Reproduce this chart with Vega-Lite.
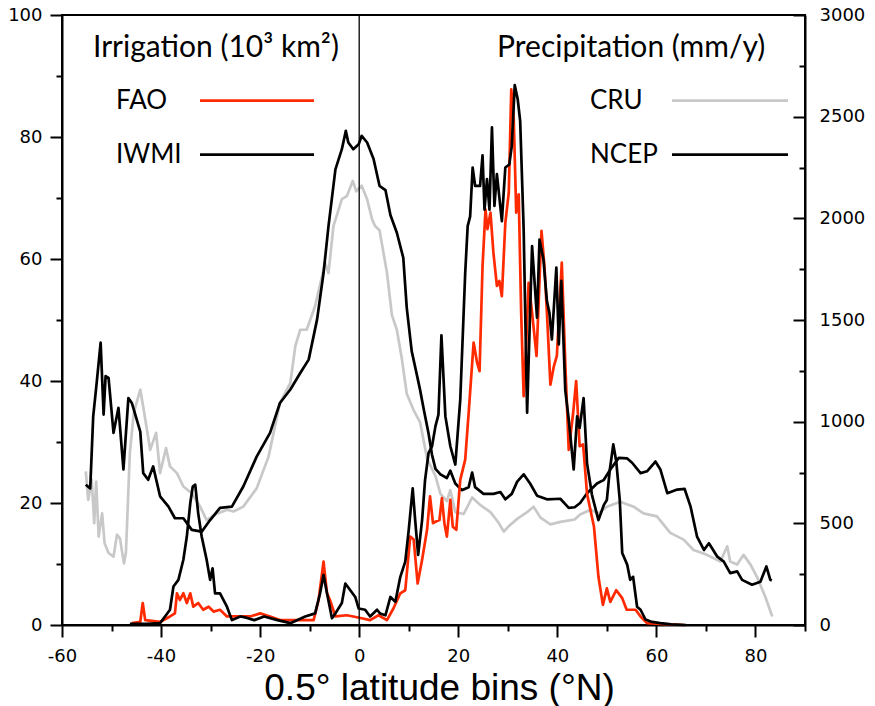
{
  "$schema": "https://vega.github.io/schema/vega-lite/v6.json",
  "width": 743,
  "height": 610,
  "autosize": {"type": "none"},
  "padding": {"left": 62, "top": 15, "right": 70, "bottom": 81},
  "background": "white",
  "config": {
    "view": {"stroke": "black", "strokeWidth": 2},
    "axis": {"grid": false, "domainColor": "black", "domainWidth": 2, "tickColor": "black", "tickWidth": 2, "labelFont": "DejaVu Sans", "labelFontSize": 18, "labelColor": "black", "labelFlush": false, "labelOverlap": false}
  },
  "datasets": {
    "irrigation": [
      {"lat":-45.9,"value":0.3,"series":"FAO"},{"lat":-44.2,"value":0.5,"series":"FAO"},{"lat":-43.7,"value":3.6,"series":"FAO"},{"lat":-43.2,"value":0.8,"series":"FAO"},{"lat":-40.2,"value":0.5,"series":"FAO"},{"lat":-38.2,"value":1.4,"series":"FAO"},{"lat":-37.2,"value":1.9,"series":"FAO"},{"lat":-36.8,"value":5.2,"series":"FAO"},{"lat":-36.2,"value":4.1,"series":"FAO"},{"lat":-35.5,"value":5.2,"series":"FAO"},{"lat":-34.8,"value":3.6,"series":"FAO"},{"lat":-34.1,"value":5.2,"series":"FAO"},{"lat":-33.5,"value":3.0,"series":"FAO"},{"lat":-32.5,"value":3.6,"series":"FAO"},{"lat":-31.5,"value":2.5,"series":"FAO"},{"lat":-30.4,"value":3.0,"series":"FAO"},{"lat":-29.4,"value":2.2,"series":"FAO"},{"lat":-28.1,"value":2.5,"series":"FAO"},{"lat":-26.7,"value":1.4,"series":"FAO"},{"lat":-24.0,"value":1.4,"series":"FAO"},{"lat":-22.0,"value":1.4,"series":"FAO"},{"lat":-20.0,"value":1.9,"series":"FAO"},{"lat":-18.0,"value":1.4,"series":"FAO"},{"lat":-16.0,"value":0.8,"series":"FAO"},{"lat":-13.3,"value":0.8,"series":"FAO"},{"lat":-9.2,"value":0.8,"series":"FAO"},{"lat":-8.2,"value":4.1,"series":"FAO"},{"lat":-7.2,"value":10.4,"series":"FAO"},{"lat":-6.5,"value":5.2,"series":"FAO"},{"lat":-5.9,"value":4.1,"series":"FAO"},{"lat":-4.8,"value":1.4,"series":"FAO"},{"lat":-2.5,"value":1.6,"series":"FAO"},{"lat":-1.2,"value":1.4,"series":"FAO"},{"lat":0.5,"value":1.1,"series":"FAO"},{"lat":2.2,"value":0.8,"series":"FAO"},{"lat":3.9,"value":1.6,"series":"FAO"},{"lat":5.6,"value":0.8,"series":"FAO"},{"lat":6.9,"value":2.7,"series":"FAO"},{"lat":8.3,"value":5.2,"series":"FAO"},{"lat":9.3,"value":5.7,"series":"FAO"},{"lat":10.3,"value":14.5,"series":"FAO"},{"lat":11.0,"value":14.0,"series":"FAO"},{"lat":11.8,"value":6.8,"series":"FAO"},{"lat":12.7,"value":10.7,"series":"FAO"},{"lat":13.7,"value":15.6,"series":"FAO"},{"lat":14.3,"value":21.1,"series":"FAO"},{"lat":14.9,"value":16.7,"series":"FAO"},{"lat":15.6,"value":17.0,"series":"FAO"},{"lat":16.2,"value":17.2,"series":"FAO"},{"lat":16.7,"value":20.8,"series":"FAO"},{"lat":17.2,"value":16.7,"series":"FAO"},{"lat":17.7,"value":14.5,"series":"FAO"},{"lat":18.4,"value":20.5,"series":"FAO"},{"lat":18.9,"value":16.1,"series":"FAO"},{"lat":19.6,"value":15.6,"series":"FAO"},{"lat":20.4,"value":23.8,"series":"FAO"},{"lat":21.4,"value":27.1,"series":"FAO"},{"lat":22.1,"value":34.8,"series":"FAO"},{"lat":23.1,"value":46.3,"series":"FAO"},{"lat":23.8,"value":43.0,"series":"FAO"},{"lat":24.3,"value":41.6,"series":"FAO"},{"lat":24.9,"value":58.8,"series":"FAO"},{"lat":25.5,"value":68.1,"series":"FAO"},{"lat":25.9,"value":64.9,"series":"FAO"},{"lat":26.5,"value":67.6,"series":"FAO"},{"lat":27.1,"value":61.0,"series":"FAO"},{"lat":27.8,"value":55.6,"series":"FAO"},{"lat":28.3,"value":56.4,"series":"FAO"},{"lat":28.8,"value":53.9,"series":"FAO"},{"lat":29.5,"value":65.9,"series":"FAO"},{"lat":30.2,"value":70.9,"series":"FAO"},{"lat":30.7,"value":87.8,"series":"FAO"},{"lat":31.2,"value":82.9,"series":"FAO"},{"lat":31.7,"value":67.6,"series":"FAO"},{"lat":32.2,"value":70.6,"series":"FAO"},{"lat":32.7,"value":51.2,"series":"FAO"},{"lat":33.2,"value":37.5,"series":"FAO"},{"lat":33.7,"value":45.7,"series":"FAO"},{"lat":34.2,"value":56.1,"series":"FAO"},{"lat":34.9,"value":51.2,"series":"FAO"},{"lat":35.8,"value":44.1,"series":"FAO"},{"lat":36.8,"value":64.6,"series":"FAO"},{"lat":37.4,"value":58.8,"series":"FAO"},{"lat":37.9,"value":51.2,"series":"FAO"},{"lat":38.6,"value":39.4,"series":"FAO"},{"lat":39.3,"value":42.4,"series":"FAO"},{"lat":39.9,"value":44.1,"series":"FAO"},{"lat":40.9,"value":59.4,"series":"FAO"},{"lat":41.6,"value":43.0,"series":"FAO"},{"lat":42.3,"value":28.7,"series":"FAO"},{"lat":43.2,"value":34.8,"series":"FAO"},{"lat":43.8,"value":40.0,"series":"FAO"},{"lat":44.5,"value":29.3,"series":"FAO"},{"lat":45.2,"value":29.6,"series":"FAO"},{"lat":46.0,"value":21.5,"series":"FAO"},{"lat":47.4,"value":16.1,"series":"FAO"},{"lat":48.3,"value":7.9,"series":"FAO"},{"lat":49.2,"value":3.3,"series":"FAO"},{"lat":50.0,"value":6.0,"series":"FAO"},{"lat":50.7,"value":3.8,"series":"FAO"},{"lat":51.9,"value":5.7,"series":"FAO"},{"lat":53.1,"value":4.4,"series":"FAO"},{"lat":54.0,"value":2.5,"series":"FAO"},{"lat":55.8,"value":2.5,"series":"FAO"},{"lat":56.8,"value":1.4,"series":"FAO"},{"lat":58.1,"value":0.3,"series":"FAO"},{"lat":60.8,"value":0.2,"series":"FAO"},{"lat":65.5,"value":0.0,"series":"FAO"},
      {"lat":-46.3,"value":0.2,"series":"IWMI"},{"lat":-43.0,"value":0.2,"series":"IWMI"},{"lat":-40.2,"value":0.3,"series":"IWMI"},{"lat":-39.2,"value":1.4,"series":"IWMI"},{"lat":-38.2,"value":2.5,"series":"IWMI"},{"lat":-37.5,"value":6.3,"series":"IWMI"},{"lat":-36.5,"value":7.4,"series":"IWMI"},{"lat":-35.5,"value":10.7,"series":"IWMI"},{"lat":-34.8,"value":14.5,"series":"IWMI"},{"lat":-34.1,"value":20.0,"series":"IWMI"},{"lat":-33.6,"value":22.7,"series":"IWMI"},{"lat":-33.1,"value":23.0,"series":"IWMI"},{"lat":-32.5,"value":18.3,"series":"IWMI"},{"lat":-31.8,"value":14.5,"series":"IWMI"},{"lat":-30.8,"value":10.7,"series":"IWMI"},{"lat":-30.1,"value":7.4,"series":"IWMI"},{"lat":-29.6,"value":9.3,"series":"IWMI"},{"lat":-29.1,"value":5.2,"series":"IWMI"},{"lat":-28.1,"value":5.2,"series":"IWMI"},{"lat":-26.7,"value":3.0,"series":"IWMI"},{"lat":-25.7,"value":0.8,"series":"IWMI"},{"lat":-24.0,"value":1.4,"series":"IWMI"},{"lat":-22.8,"value":1.2,"series":"IWMI"},{"lat":-21.2,"value":0.8,"series":"IWMI"},{"lat":-19.2,"value":1.4,"series":"IWMI"},{"lat":-16.5,"value":0.8,"series":"IWMI"},{"lat":-13.9,"value":0.3,"series":"IWMI"},{"lat":-10.9,"value":1.4,"series":"IWMI"},{"lat":-8.9,"value":1.9,"series":"IWMI"},{"lat":-7.9,"value":5.2,"series":"IWMI"},{"lat":-7.2,"value":8.2,"series":"IWMI"},{"lat":-6.5,"value":5.2,"series":"IWMI"},{"lat":-5.5,"value":1.1,"series":"IWMI"},{"lat":-4.8,"value":1.9,"series":"IWMI"},{"lat":-3.5,"value":3.6,"series":"IWMI"},{"lat":-2.8,"value":6.8,"series":"IWMI"},{"lat":-1.8,"value":5.7,"series":"IWMI"},{"lat":-0.8,"value":4.6,"series":"IWMI"},{"lat":-0.1,"value":2.7,"series":"IWMI"},{"lat":1.2,"value":2.5,"series":"IWMI"},{"lat":2.2,"value":1.4,"series":"IWMI"},{"lat":3.6,"value":2.5,"series":"IWMI"},{"lat":4.2,"value":1.9,"series":"IWMI"},{"lat":5.3,"value":1.6,"series":"IWMI"},{"lat":6.3,"value":4.6,"series":"IWMI"},{"lat":7.3,"value":3.8,"series":"IWMI"},{"lat":8.3,"value":7.9,"series":"IWMI"},{"lat":9.3,"value":10.4,"series":"IWMI"},{"lat":10.0,"value":15.6,"series":"IWMI"},{"lat":10.8,"value":22.4,"series":"IWMI"},{"lat":11.3,"value":17.2,"series":"IWMI"},{"lat":11.9,"value":11.5,"series":"IWMI"},{"lat":12.7,"value":17.2,"series":"IWMI"},{"lat":13.3,"value":23.8,"series":"IWMI"},{"lat":14.0,"value":28.2,"series":"IWMI"},{"lat":14.7,"value":29.3,"series":"IWMI"},{"lat":15.4,"value":32.6,"series":"IWMI"},{"lat":16.0,"value":34.5,"series":"IWMI"},{"lat":16.6,"value":47.5,"series":"IWMI"},{"lat":17.4,"value":34.2,"series":"IWMI"},{"lat":18.4,"value":29.3,"series":"IWMI"},{"lat":19.4,"value":26.3,"series":"IWMI"},{"lat":20.4,"value":36.9,"series":"IWMI"},{"lat":21.4,"value":57.7,"series":"IWMI"},{"lat":21.9,"value":65.4,"series":"IWMI"},{"lat":22.4,"value":67.0,"series":"IWMI"},{"lat":22.9,"value":75.0,"series":"IWMI"},{"lat":23.4,"value":72.0,"series":"IWMI"},{"lat":24.4,"value":72.0,"series":"IWMI"},{"lat":24.9,"value":77.0,"series":"IWMI"},{"lat":25.3,"value":68.1,"series":"IWMI"},{"lat":25.8,"value":73.1,"series":"IWMI"},{"lat":26.3,"value":68.1,"series":"IWMI"},{"lat":26.8,"value":81.6,"series":"IWMI"},{"lat":27.3,"value":68.7,"series":"IWMI"},{"lat":27.8,"value":73.9,"series":"IWMI"},{"lat":28.8,"value":66.2,"series":"IWMI"},{"lat":29.5,"value":75.0,"series":"IWMI"},{"lat":30.3,"value":75.5,"series":"IWMI"},{"lat":30.8,"value":78.5,"series":"IWMI"},{"lat":31.4,"value":88.5,"series":"IWMI"},{"lat":32.0,"value":86.2,"series":"IWMI"},{"lat":32.5,"value":82.6,"series":"IWMI"},{"lat":33.2,"value":64.9,"series":"IWMI"},{"lat":33.9,"value":34.8,"series":"IWMI"},{"lat":34.9,"value":62.1,"series":"IWMI"},{"lat":35.9,"value":50.4,"series":"IWMI"},{"lat":36.4,"value":63.2,"series":"IWMI"},{"lat":37.2,"value":59.9,"series":"IWMI"},{"lat":37.9,"value":53.1,"series":"IWMI"},{"lat":38.4,"value":51.2,"series":"IWMI"},{"lat":38.9,"value":46.8,"series":"IWMI"},{"lat":39.8,"value":58.6,"series":"IWMI"},{"lat":40.3,"value":46.0,"series":"IWMI"},{"lat":40.8,"value":56.4,"series":"IWMI"},{"lat":41.6,"value":38.5,"series":"IWMI"},{"lat":42.3,"value":33.7,"series":"IWMI"},{"lat":43.3,"value":25.5,"series":"IWMI"},{"lat":44.0,"value":34.2,"series":"IWMI"},{"lat":44.5,"value":32.3,"series":"IWMI"},{"lat":45.3,"value":37.2,"series":"IWMI"},{"lat":46.0,"value":26.5,"series":"IWMI"},{"lat":47.0,"value":21.3,"series":"IWMI"},{"lat":48.3,"value":17.2,"series":"IWMI"},{"lat":49.4,"value":19.7,"series":"IWMI"},{"lat":50.0,"value":20.5,"series":"IWMI"},{"lat":50.6,"value":25.5,"series":"IWMI"},{"lat":51.3,"value":29.6,"series":"IWMI"},{"lat":51.9,"value":26.8,"series":"IWMI"},{"lat":52.6,"value":20.5,"series":"IWMI"},{"lat":53.1,"value":11.8,"series":"IWMI"},{"lat":54.1,"value":9.9,"series":"IWMI"},{"lat":54.7,"value":7.4,"series":"IWMI"},{"lat":55.3,"value":7.9,"series":"IWMI"},{"lat":56.1,"value":3.0,"series":"IWMI"},{"lat":56.8,"value":2.5,"series":"IWMI"},{"lat":57.8,"value":0.9,"series":"IWMI"},{"lat":59.1,"value":0.5,"series":"IWMI"},{"lat":60.8,"value":0.3,"series":"IWMI"},{"lat":63.0,"value":0.1,"series":"IWMI"},{"lat":66.0,"value":0.0,"series":"IWMI"}
    ],
    "precipitation": [
      {"lat":-55.2,"value":756,"series":"CRU"},{"lat":-54.7,"value":615,"series":"CRU"},{"lat":-54.0,"value":714,"series":"CRU"},{"lat":-53.5,"value":501,"series":"CRU"},{"lat":-53.1,"value":705,"series":"CRU"},{"lat":-52.6,"value":435,"series":"CRU"},{"lat":-51.9,"value":549,"series":"CRU"},{"lat":-51.4,"value":402,"series":"CRU"},{"lat":-50.6,"value":354,"series":"CRU"},{"lat":-49.6,"value":336,"series":"CRU"},{"lat":-48.9,"value":444,"series":"CRU"},{"lat":-48.3,"value":426,"series":"CRU"},{"lat":-47.5,"value":303,"series":"CRU"},{"lat":-47.1,"value":354,"series":"CRU"},{"lat":-46.3,"value":846,"series":"CRU"},{"lat":-45.5,"value":1044,"series":"CRU"},{"lat":-44.2,"value":1158,"series":"CRU"},{"lat":-43.4,"value":1044,"series":"CRU"},{"lat":-42.2,"value":861,"series":"CRU"},{"lat":-41.0,"value":945,"series":"CRU"},{"lat":-40.2,"value":747,"series":"CRU"},{"lat":-39.0,"value":870,"series":"CRU"},{"lat":-38.2,"value":780,"series":"CRU"},{"lat":-36.8,"value":747,"series":"CRU"},{"lat":-35.5,"value":681,"series":"CRU"},{"lat":-33.8,"value":648,"series":"CRU"},{"lat":-32.1,"value":582,"series":"CRU"},{"lat":-30.8,"value":516,"series":"CRU"},{"lat":-29.1,"value":543,"series":"CRU"},{"lat":-26.7,"value":567,"series":"CRU"},{"lat":-25.4,"value":558,"series":"CRU"},{"lat":-23.4,"value":582,"series":"CRU"},{"lat":-20.7,"value":672,"series":"CRU"},{"lat":-18.3,"value":828,"series":"CRU"},{"lat":-16.0,"value":1092,"series":"CRU"},{"lat":-13.9,"value":1191,"series":"CRU"},{"lat":-12.9,"value":1371,"series":"CRU"},{"lat":-11.9,"value":1452,"series":"CRU"},{"lat":-10.6,"value":1452,"series":"CRU"},{"lat":-8.9,"value":1569,"series":"CRU"},{"lat":-7.5,"value":1716,"series":"CRU"},{"lat":-6.9,"value":1782,"series":"CRU"},{"lat":-6.2,"value":1731,"series":"CRU"},{"lat":-5.2,"value":1962,"series":"CRU"},{"lat":-3.5,"value":2094,"series":"CRU"},{"lat":-2.5,"value":2109,"series":"CRU"},{"lat":-1.3,"value":2184,"series":"CRU"},{"lat":-0.6,"value":2133,"series":"CRU"},{"lat":0.5,"value":2160,"series":"CRU"},{"lat":1.6,"value":2094,"series":"CRU"},{"lat":2.6,"value":1995,"series":"CRU"},{"lat":3.2,"value":1962,"series":"CRU"},{"lat":4.1,"value":1941,"series":"CRU"},{"lat":5.6,"value":1734,"series":"CRU"},{"lat":6.6,"value":1524,"series":"CRU"},{"lat":7.6,"value":1452,"series":"CRU"},{"lat":8.6,"value":1311,"series":"CRU"},{"lat":9.6,"value":1137,"series":"CRU"},{"lat":11.0,"value":1056,"series":"CRU"},{"lat":12.3,"value":996,"series":"CRU"},{"lat":13.7,"value":819,"series":"CRU"},{"lat":15.4,"value":732,"series":"CRU"},{"lat":16.4,"value":645,"series":"CRU"},{"lat":17.7,"value":609,"series":"CRU"},{"lat":18.4,"value":663,"series":"CRU"},{"lat":19.4,"value":555,"series":"CRU"},{"lat":21.1,"value":546,"series":"CRU"},{"lat":22.8,"value":627,"series":"CRU"},{"lat":24.4,"value":591,"series":"CRU"},{"lat":26.5,"value":555,"series":"CRU"},{"lat":28.1,"value":504,"series":"CRU"},{"lat":29.2,"value":459,"series":"CRU"},{"lat":30.2,"value":486,"series":"CRU"},{"lat":31.9,"value":522,"series":"CRU"},{"lat":33.9,"value":555,"series":"CRU"},{"lat":35.2,"value":582,"series":"CRU"},{"lat":36.6,"value":528,"series":"CRU"},{"lat":38.6,"value":495,"series":"CRU"},{"lat":40.6,"value":507,"series":"CRU"},{"lat":43.5,"value":519,"series":"CRU"},{"lat":44.6,"value":543,"series":"CRU"},{"lat":46.7,"value":567,"series":"CRU"},{"lat":48.3,"value":549,"series":"CRU"},{"lat":50.0,"value":582,"series":"CRU"},{"lat":52.7,"value":606,"series":"CRU"},{"lat":55.4,"value":582,"series":"CRU"},{"lat":57.4,"value":549,"series":"CRU"},{"lat":60.1,"value":534,"series":"CRU"},{"lat":62.8,"value":453,"series":"CRU"},{"lat":65.5,"value":420,"series":"CRU"},{"lat":67.5,"value":369,"series":"CRU"},{"lat":70.2,"value":345,"series":"CRU"},{"lat":72.9,"value":312,"series":"CRU"},{"lat":74.3,"value":387,"series":"CRU"},{"lat":74.9,"value":312,"series":"CRU"},{"lat":76.3,"value":297,"series":"CRU"},{"lat":77.6,"value":345,"series":"CRU"},{"lat":79.0,"value":297,"series":"CRU"},{"lat":80.3,"value":237,"series":"CRU"},{"lat":82.0,"value":138,"series":"CRU"},{"lat":83.4,"value":42,"series":"CRU"},
      {"lat":-55.2,"value":690,"series":"NCEP"},{"lat":-54.3,"value":672,"series":"NCEP"},{"lat":-53.7,"value":1026,"series":"NCEP"},{"lat":-53.0,"value":1191,"series":"NCEP"},{"lat":-52.2,"value":1389,"series":"NCEP"},{"lat":-51.6,"value":1035,"series":"NCEP"},{"lat":-51.2,"value":1224,"series":"NCEP"},{"lat":-50.6,"value":1215,"series":"NCEP"},{"lat":-49.6,"value":945,"series":"NCEP"},{"lat":-48.6,"value":1068,"series":"NCEP"},{"lat":-47.6,"value":765,"series":"NCEP"},{"lat":-46.6,"value":1116,"series":"NCEP"},{"lat":-45.9,"value":1092,"series":"NCEP"},{"lat":-44.2,"value":951,"series":"NCEP"},{"lat":-43.6,"value":747,"series":"NCEP"},{"lat":-42.6,"value":714,"series":"NCEP"},{"lat":-41.6,"value":780,"series":"NCEP"},{"lat":-40.2,"value":633,"series":"NCEP"},{"lat":-38.5,"value":582,"series":"NCEP"},{"lat":-37.2,"value":525,"series":"NCEP"},{"lat":-35.5,"value":525,"series":"NCEP"},{"lat":-33.8,"value":468,"series":"NCEP"},{"lat":-31.8,"value":459,"series":"NCEP"},{"lat":-30.1,"value":516,"series":"NCEP"},{"lat":-28.1,"value":576,"series":"NCEP"},{"lat":-25.7,"value":582,"series":"NCEP"},{"lat":-23.4,"value":681,"series":"NCEP"},{"lat":-20.7,"value":828,"series":"NCEP"},{"lat":-18.0,"value":945,"series":"NCEP"},{"lat":-16.0,"value":1092,"series":"NCEP"},{"lat":-13.9,"value":1158,"series":"NCEP"},{"lat":-11.9,"value":1239,"series":"NCEP"},{"lat":-10.2,"value":1305,"series":"NCEP"},{"lat":-8.5,"value":1503,"series":"NCEP"},{"lat":-7.2,"value":1731,"series":"NCEP"},{"lat":-6.2,"value":1962,"series":"NCEP"},{"lat":-4.8,"value":2241,"series":"NCEP"},{"lat":-3.5,"value":2340,"series":"NCEP"},{"lat":-2.7,"value":2430,"series":"NCEP"},{"lat":-2.2,"value":2373,"series":"NCEP"},{"lat":-1.2,"value":2340,"series":"NCEP"},{"lat":-0.1,"value":2364,"series":"NCEP"},{"lat":0.5,"value":2406,"series":"NCEP"},{"lat":1.6,"value":2373,"series":"NCEP"},{"lat":2.9,"value":2292,"series":"NCEP"},{"lat":4.1,"value":2160,"series":"NCEP"},{"lat":5.3,"value":2139,"series":"NCEP"},{"lat":6.3,"value":2016,"series":"NCEP"},{"lat":7.6,"value":1929,"series":"NCEP"},{"lat":8.9,"value":1806,"series":"NCEP"},{"lat":9.6,"value":1560,"series":"NCEP"},{"lat":10.6,"value":1347,"series":"NCEP"},{"lat":11.7,"value":1224,"series":"NCEP"},{"lat":12.3,"value":1155,"series":"NCEP"},{"lat":13.0,"value":1065,"series":"NCEP"},{"lat":14.0,"value":942,"series":"NCEP"},{"lat":14.7,"value":837,"series":"NCEP"},{"lat":15.4,"value":768,"series":"NCEP"},{"lat":16.4,"value":741,"series":"NCEP"},{"lat":17.7,"value":723,"series":"NCEP"},{"lat":18.4,"value":759,"series":"NCEP"},{"lat":19.4,"value":696,"series":"NCEP"},{"lat":20.7,"value":663,"series":"NCEP"},{"lat":22.1,"value":678,"series":"NCEP"},{"lat":22.8,"value":750,"series":"NCEP"},{"lat":23.4,"value":678,"series":"NCEP"},{"lat":25.1,"value":645,"series":"NCEP"},{"lat":27.1,"value":645,"series":"NCEP"},{"lat":28.5,"value":654,"series":"NCEP"},{"lat":29.5,"value":618,"series":"NCEP"},{"lat":30.8,"value":645,"series":"NCEP"},{"lat":31.9,"value":705,"series":"NCEP"},{"lat":33.2,"value":741,"series":"NCEP"},{"lat":34.5,"value":696,"series":"NCEP"},{"lat":35.9,"value":636,"series":"NCEP"},{"lat":37.9,"value":618,"series":"NCEP"},{"lat":40.6,"value":621,"series":"NCEP"},{"lat":42.3,"value":576,"series":"NCEP"},{"lat":43.5,"value":579,"series":"NCEP"},{"lat":44.6,"value":600,"series":"NCEP"},{"lat":46.0,"value":648,"series":"NCEP"},{"lat":48.0,"value":696,"series":"NCEP"},{"lat":49.4,"value":714,"series":"NCEP"},{"lat":50.7,"value":765,"series":"NCEP"},{"lat":52.4,"value":822,"series":"NCEP"},{"lat":54.1,"value":819,"series":"NCEP"},{"lat":55.1,"value":798,"series":"NCEP"},{"lat":56.8,"value":747,"series":"NCEP"},{"lat":58.1,"value":756,"series":"NCEP"},{"lat":59.8,"value":804,"series":"NCEP"},{"lat":60.8,"value":765,"series":"NCEP"},{"lat":62.2,"value":648,"series":"NCEP"},{"lat":64.2,"value":666,"series":"NCEP"},{"lat":65.7,"value":669,"series":"NCEP"},{"lat":66.9,"value":582,"series":"NCEP"},{"lat":68.2,"value":435,"series":"NCEP"},{"lat":69.6,"value":369,"series":"NCEP"},{"lat":70.6,"value":402,"series":"NCEP"},{"lat":72.3,"value":336,"series":"NCEP"},{"lat":73.6,"value":312,"series":"NCEP"},{"lat":74.9,"value":255,"series":"NCEP"},{"lat":76.3,"value":264,"series":"NCEP"},{"lat":77.3,"value":222,"series":"NCEP"},{"lat":79.3,"value":198,"series":"NCEP"},{"lat":81.0,"value":213,"series":"NCEP"},{"lat":82.2,"value":288,"series":"NCEP"},{"lat":83.0,"value":222,"series":"NCEP"},{"lat":83.3,"value":219,"series":"NCEP"}
    ]
  },
  "layer": [
    {
      "data": {"name": "precipitation"},
      "mark": {"type": "line", "strokeWidth": 2.7, "strokeJoin": "round"},
      "encoding": {
        "x": {"field": "lat", "type": "quantitative", "scale": {"domain": [-60, 90], "nice": false},
          "axis": {"title": "0.5° latitude bins (°N)", "titleFont": "Liberation Sans", "titleFontSize": 37, "titleFontWeight": "normal", "titleColor": "black", "titlePadding": 5, "titleX": 377, "titleAlign": "center",
            "values": [-60,-50,-40,-30,-20,-10,0,10,20,30,40,50,60,70,80,90],
            "labelExpr": "datum.value % 20 === 0 && datum.value < 90 ? '' + datum.value : ''",
            "tickSize": {"condition": {"test": "datum.value % 20 === 0 && datum.value < 90", "value": 12}, "value": 6},
            "labelPadding": 10}},
        "y": {"field": "value", "type": "quantitative", "scale": {"domain": [0, 3000], "nice": false},
          "axis": {"orient": "right", "title": null, "values": [0,250,500,750,1000,1250,1500,1750,2000,2250,2500,2750,3000],
            "labelExpr": "datum.value % 500 === 0 ? '' + datum.value : ''",
            "tickSize": {"condition": {"test": "datum.value % 500 === 0", "value": -12}, "value": -6},
            "labelPadding": 26}},
        "color": {"field": "series", "type": "nominal",
          "scale": {"domain": ["CRU", "NCEP"], "range": ["#c8c8c8", "#000000"]},
          "legend": {"orient": "none", "legendX": 435, "legendY": 18, "direction": "vertical", "padding": 0,
            "title": "Precipitation (mm/y)", "titleFont": "Lato", "titleFontSize": 30, "titleFontWeight": "normal", "titleColor": "black", "titlePadding": 24.6, "titleLimit": 0,
            "labelFont": "Lato", "labelFontSize": 26, "labelColor": "black", "labelOffset": 67, "labelLimit": 0,
            "symbolType": "M32.4,0L55.6,0", "symbolSize": 100, "symbolStrokeWidth": 2.7, "symbolOffset": 0, "rowPadding": 28}}
      }
    },
    {
      "data": {"name": "irrigation"},
      "mark": {"type": "line", "strokeWidth": 2.7, "strokeJoin": "round"},
      "encoding": {
        "x": {"field": "lat", "type": "quantitative"},
        "y": {"field": "value", "type": "quantitative", "scale": {"domain": [0, 100], "nice": false},
          "axis": {"orient": "left", "title": null, "values": [0,10,20,30,40,50,60,70,80,90,100],
            "labelExpr": "datum.value % 20 === 0 ? '' + datum.value : ''",
            "tickSize": {"condition": {"test": "datum.value % 20 === 0", "value": 12}, "value": 6},
            "labelPadding": 8}},
        "color": {"field": "series", "type": "nominal",
          "scale": {"domain": ["FAO", "IWMI"], "range": ["#ff2a00", "#000000"]},
          "legend": {"orient": "none", "legendX": 31, "legendY": 18, "direction": "vertical", "padding": 0,
            "title": "Irrigation (10³ km²)", "titleFont": "Lato", "titleFontSize": 30, "titleFontWeight": "normal", "titleColor": "black", "titlePadding": 24.6, "titleLimit": 0,
            "labelFont": "Lato", "labelFontSize": 26, "labelColor": "black", "labelOffset": -3, "labelLimit": 0,
            "symbolType": "M18.8,0L41.6,0", "symbolSize": 100, "symbolStrokeWidth": 2.7, "symbolOffset": 0, "rowPadding": 28}}
      }
    },
    {
      "data": {"values": [{"lat": 0}]},
      "mark": {"type": "rule", "color": "black", "strokeWidth": 1.3},
      "encoding": {"x": {"field": "lat", "type": "quantitative"}}
    }
  ],
  "resolve": {"scale": {"y": "independent", "color": "independent"}}
}
